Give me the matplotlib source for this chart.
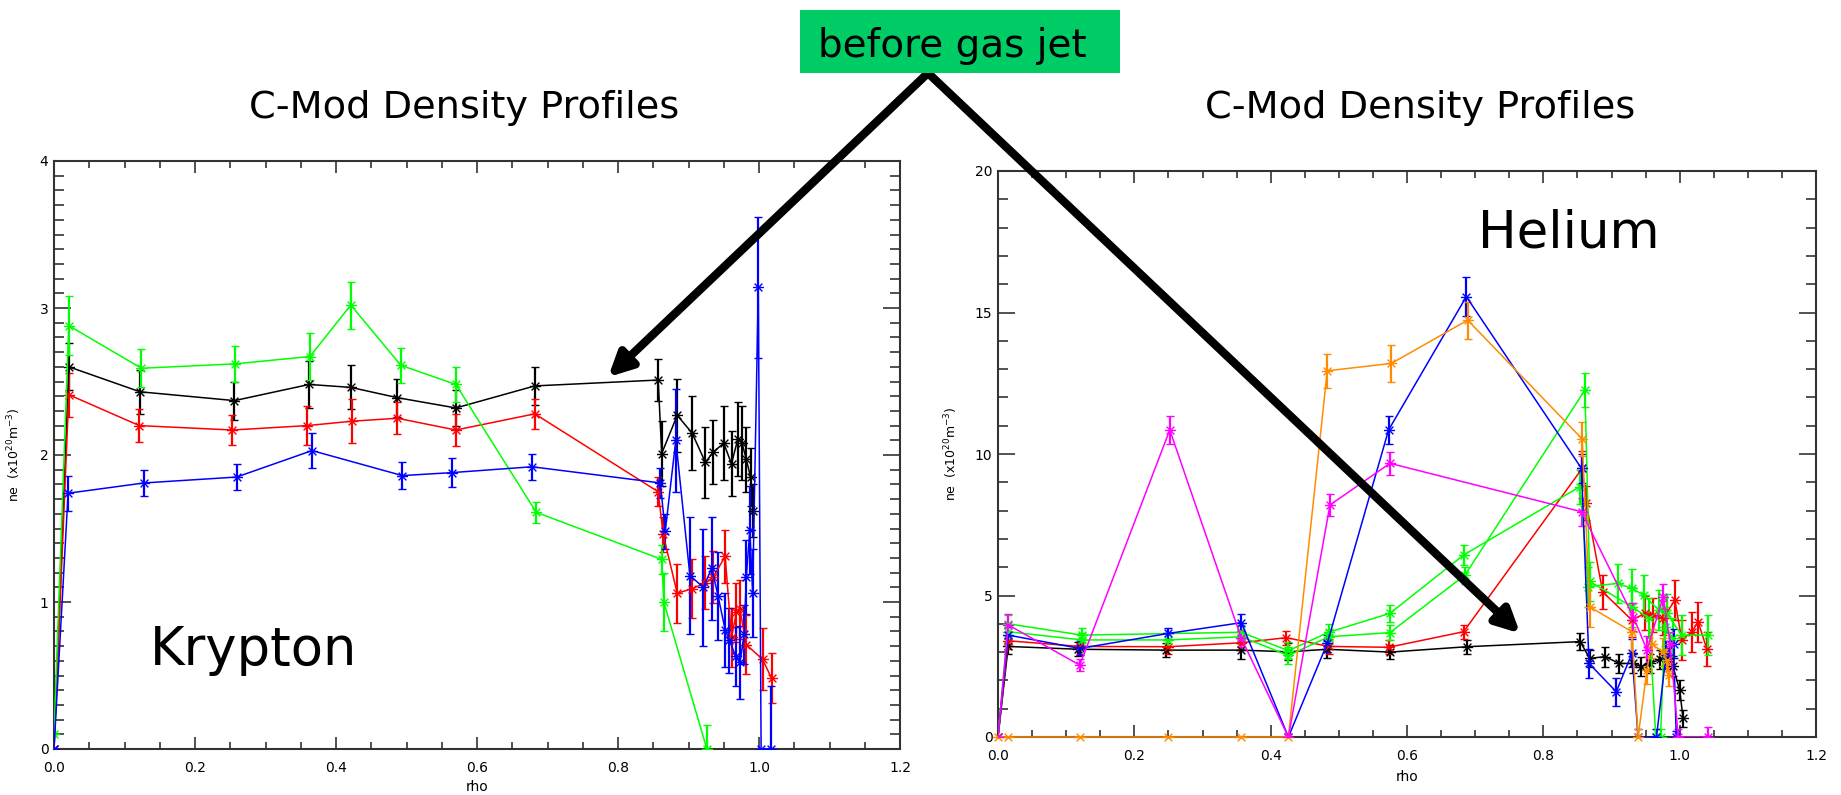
import numpy as np
import matplotlib.pyplot as plt
from matplotlib.path import Path
from matplotlib.patches import Rectangle
from matplotlib.ticker import MultipleLocator, FormatStrFormatter

plt.rcParams['font.family'] = 'DejaVu Sans'

# ---- Krypton shots ----
kr_black_rho = [0.0, 0.021, 0.122, 0.256, 0.362, 0.421, 0.487, 0.570, 0.682, 0.857, 0.862, 0.884,
                0.905, 0.924, 0.935, 0.950, 0.961, 0.970, 0.976, 0.982, 0.988, 0.992]
kr_black_ne = [0.0, 2.60, 2.43, 2.37, 2.48, 2.46, 2.39, 2.32, 2.47, 2.51, 2.01, 2.27,
               2.15, 1.95, 2.02, 2.08, 1.94, 2.11, 2.08, 1.97, 1.85, 1.62]
kr_black_err = [0.0, 0.16, 0.15, 0.13, 0.16, 0.15, 0.13, 0.12, 0.13, 0.14, 0.22, 0.25,
                0.25, 0.24, 0.22, 0.25, 0.22, 0.25, 0.25, 0.22, 0.20, 0.18]

kr_red_rho = [0.0, 0.021, 0.121, 0.253, 0.359, 0.423, 0.487, 0.570, 0.682, 0.857, 0.864, 0.884,
              0.905, 0.924, 0.935, 0.952, 0.961, 0.968, 0.973, 0.982, 1.005, 1.018]
kr_red_ne = [0.0, 2.41, 2.20, 2.17, 2.20, 2.23, 2.25, 2.17, 2.28, 1.75, 1.46, 1.06,
             1.09, 1.13, 1.17, 1.31, 0.76, 0.93, 0.95, 0.71, 0.61, 0.48]
kr_red_err = [0.0, 0.15, 0.11, 0.10, 0.13, 0.15, 0.11, 0.11, 0.10, 0.10, 0.12, 0.20,
              0.20, 0.18, 0.18, 0.18, 0.20, 0.20, 0.20, 0.20, 0.21, 0.17]

kr_green_rho = [0.0, 0.021, 0.124, 0.257, 0.363, 0.421, 0.492, 0.570, 0.684, 0.862, 0.865, 0.926]
kr_green_ne = [0.1, 2.88, 2.59, 2.62, 2.67, 3.02, 2.61, 2.48, 1.61, 1.29, 1.00, 0.0]
kr_green_err = [0.0, 0.20, 0.13, 0.12, 0.16, 0.16, 0.12, 0.12, 0.07, 0.10, 0.20, 0.16]

kr_blue_rho = [0.0, 0.020, 0.128, 0.259, 0.366, 0.494, 0.564, 0.678, 0.860, 0.867, 0.882, 0.902,
               0.921, 0.933, 0.942, 0.952, 0.958, 0.967, 0.973, 0.979, 0.982, 0.987, 0.991,
               0.999, 1.003, 1.017]
kr_blue_ne = [0.0, 1.74, 1.81, 1.85, 2.03, 1.86, 1.88, 1.92, 1.81, 1.48, 2.10, 1.18,
              1.10, 1.23, 1.04, 0.81, 0.74, 0.63, 0.59, 0.78, 1.17, 1.49, 1.06,
              3.14, 0.0, 0.0]
kr_blue_err = [0.0, 0.12, 0.09, 0.09, 0.12, 0.09, 0.10, 0.09, 0.10, 0.12, 0.35, 0.40,
               0.40, 0.35, 0.30, 0.25, 0.22, 0.20, 0.25, 0.20, 0.25, 0.30, 0.30,
               0.48, 0.0, 0.43]

# ---- Helium shots ----
he_black_rho = [0.0, 0.015, 0.118, 0.247, 0.357, 0.426, 0.483, 0.575, 0.688, 0.854, 0.868, 0.891,
                0.911, 0.931, 0.944, 0.956, 0.971, 0.983, 0.990, 1.000, 1.005]
he_black_ne = [0.0, 3.20, 3.10, 3.07, 3.07, 3.01, 3.10, 3.00, 3.19, 3.37, 2.78, 2.84,
               2.60, 2.60, 2.49, 2.60, 2.74, 2.78, 2.50, 1.66, 0.66]
he_black_err = [0.0, 0.25, 0.25, 0.25, 0.30, 0.30, 0.30, 0.25, 0.25, 0.30, 0.30, 0.35,
                0.35, 0.35, 0.35, 0.35, 0.35, 0.35, 0.35, 0.35, 0.30]

he_red_rho = [0.0, 0.015, 0.120, 0.250, 0.357, 0.423, 0.485, 0.573, 0.683, 0.857, 0.863, 0.887,
              0.930, 0.949, 0.961, 0.976, 0.993, 1.003, 1.018, 1.027, 1.040]
he_red_ne = [0.0, 3.40, 3.20, 3.19, 3.33, 3.51, 3.20, 3.17, 3.72, 9.49, 8.26, 5.13,
             4.13, 4.37, 4.31, 4.19, 4.84, 3.43, 3.72, 4.07, 3.10]
he_red_err = [0.0, 0.30, 0.25, 0.25, 0.25, 0.25, 0.25, 0.25, 0.25, 0.60, 0.60, 0.60,
              0.60, 0.60, 0.60, 0.60, 0.70, 0.70, 0.70, 0.70, 0.60]

he_green_rho = [0.0, 0.015, 0.123, 0.357, 0.426, 0.485, 0.575, 0.683, 0.854, 0.866, 0.909,
                0.930, 0.947, 0.969, 0.981, 1.003, 1.042]
he_green_ne = [0.0, 4.00, 3.60, 3.70, 3.05, 3.70, 4.37, 6.43, 8.85, 5.31, 5.43,
               5.25, 5.02, 4.49, 4.37, 3.60, 3.60]
he_green_err = [0.0, 0.30, 0.25, 0.25, 0.30, 0.30, 0.30, 0.35, 0.60, 0.70, 0.70,
                0.70, 0.70, 0.70, 0.70, 0.70, 0.70]

he_green2_rho = [0.0, 0.015, 0.123, 0.250, 0.357, 0.426, 0.485, 0.575, 0.685, 0.861, 0.868,
                 0.930, 0.955, 0.965, 0.972, 0.978, 0.990]
he_green2_ne = [0.0, 3.72, 3.43, 3.43, 3.54, 2.88, 3.54, 3.69, 5.72, 12.26, 5.50,
                4.60, 4.20, 0.0, 0.0, 3.90, 3.50]
he_green2_err = [0.0, 0.25, 0.25, 0.25, 0.25, 0.30, 0.25, 0.25, 0.30, 0.60, 0.70,
                 0.70, 0.70, 0.30, 0.30, 0.70, 0.70]

he_blue_rho = [0.0, 0.015, 0.120, 0.250, 0.357, 0.426, 0.483, 0.573, 0.687, 0.856, 0.867,
               0.907, 0.930, 0.939, 0.966, 0.980, 0.991, 0.995]
he_blue_ne = [0.0, 3.60, 3.13, 3.66, 4.04, 0.0, 3.31, 10.85, 15.56, 9.49, 2.60,
              1.60, 2.96, 0.0, 0.0, 2.90, 3.30, 0.0]
he_blue_err = [0.0, 0.30, 0.25, 0.20, 0.30, 0.10, 0.30, 0.50, 0.70, 0.50, 0.50,
               0.50, 0.50, 0.30, 0.30, 0.50, 0.50, 0.20]

he_orange_rho = [0.0, 0.015, 0.120, 0.250, 0.357, 0.426, 0.483, 0.577, 0.689, 0.857, 0.868,
                 0.930, 0.939, 0.952, 0.959, 0.975, 0.981, 0.985]
he_orange_ne = [0.0, 0.0, 0.0, 0.0, 0.0, 0.0, 12.94, 13.20, 14.73, 10.53, 4.60,
                3.72, 0.0, 2.37, 3.30, 3.00, 2.72, 2.20]
he_orange_err = [0.0, 0.0, 0.0, 0.0, 0.0, 0.0, 0.60, 0.65, 0.65, 0.60, 0.70,
                 0.70, 0.30, 0.50, 0.50, 0.50, 0.40, 0.40]

he_magenta_rho = [0.0, 0.015, 0.120, 0.252, 0.357, 0.426, 0.487, 0.575, 0.856, 0.932,
                  0.952, 0.976, 0.986, 0.998, 1.042]
he_magenta_ne = [0.0, 3.96, 2.54, 10.85, 3.49, 0.0, 8.20, 9.67, 7.96, 4.25,
                 3.07, 4.96, 3.30, 0.0, 0.0]
he_magenta_err = [0.0, 0.40, 0.20, 0.50, 0.30, 0.10, 0.40, 0.40, 0.50, 0.50,
                  0.50, 0.45, 0.40, 0.30, 0.36]

# IDL-style asterisk symbol
star = Path([(-1, 0), (1, 0), (-0.7, -0.7), (0.7, 0.7), (-0.7, 0.7), (0.7, -0.7)],
            [Path.MOVETO, Path.LINETO] * 3)


def profile(ax, rho, ne, err, color, clip=True):
    eb = ax.errorbar(rho, ne, yerr=err, color=color, marker=star, ms=8, mfc='none', mec=color,
                     mew=1.0, lw=1.1, elinewidth=1.6, capsize=3.2, capthick=1.2, zorder=3)
    eb.lines[0].set_clip_on(clip)


def frame(ax, ymax, ymajor, yminor):
    ax.set_xlim(0, 1.2)
    ax.set_ylim(0, ymax)
    ax.xaxis.set_major_locator(MultipleLocator(0.2))
    ax.xaxis.set_minor_locator(MultipleLocator(0.05))
    ax.xaxis.set_major_formatter(FormatStrFormatter('%.1f'))
    ax.yaxis.set_major_locator(MultipleLocator(ymajor))
    ax.yaxis.set_minor_locator(MultipleLocator(yminor))
    ax.tick_params(which='both', direction='in', top=True, right=True, width=1.1,
                   colors='#222222', labelsize=10, labelcolor='black')
    ax.tick_params(axis='x', which='major', length=8.5, pad=9)
    ax.tick_params(axis='x', which='minor', length=5)
    ax.tick_params(axis='y', which='major', length=12, pad=4)
    ax.tick_params(axis='y', which='minor', length=7)
    for s in ax.spines.values():
        s.set_linewidth(1.5)
        s.set_color('#333333')
    ax.set_xlabel('rho', fontsize=10)
    ax.set_ylabel(r'ne  (x10$^{20}$m$^{-3}$)', fontsize=9)


W, H = 1841, 795
fig = plt.figure(figsize=(W / 100, H / 100), dpi=100)

ax1 = fig.add_axes([54 / W, 1 - 749 / H, 846 / W, 588 / H])
ax2 = fig.add_axes([998 / W, 1 - 737 / H, 818 / W, 566 / H])

profile(ax1, kr_black_rho, kr_black_ne, kr_black_err, 'black')
profile(ax1, kr_red_rho, kr_red_ne, kr_red_err, '#ff0000')
profile(ax1, kr_green_rho, kr_green_ne, kr_green_err, '#00ff00')
profile(ax1, kr_blue_rho, kr_blue_ne, kr_blue_err, '#0000ff')
frame(ax1, 4, 1, 0.1)
ax1.xaxis.set_label_coords(0.5, -0.053)
ax1.yaxis.set_label_coords(-0.037, 0.5)
ax1.text(0.1135, 0.143, 'Krypton', transform=ax1.transAxes, fontsize=38, va='baseline')

profile(ax2, he_black_rho, he_black_ne, he_black_err, 'black')
profile(ax2, he_red_rho, he_red_ne, he_red_err, '#ff0000')
profile(ax2, he_green_rho, he_green_ne, he_green_err, '#00ff00')
profile(ax2, he_green2_rho, he_green2_ne, he_green2_err, '#00ff00')
profile(ax2, he_blue_rho, he_blue_ne, he_blue_err, '#0000ff')
profile(ax2, he_orange_rho, he_orange_ne, he_orange_err, '#ff8c00', clip=False)
profile(ax2, he_magenta_rho, he_magenta_ne, he_magenta_err, '#ff00ff')
frame(ax2, 20, 5, 1)
ax2.xaxis.set_label_coords(0.5, -0.058)
ax2.yaxis.set_label_coords(-0.046, 0.5)
ax2.text(0.587, 0.864, 'Helium', transform=ax2.transAxes, fontsize=37, va='baseline')

# titles
fig.text(464.5 / W, 1 - 118 / H, 'C-Mod Density Profiles', fontsize=27.5, ha='center', va='baseline')
fig.text(1420.5 / W, 1 - 118 / H, 'C-Mod Density Profiles', fontsize=27.5, ha='center', va='baseline')

# callout box and arrows
fig.patches.append(Rectangle((800 / W, 1 - 73 / H), 320 / W, 63 / H, transform=fig.transFigure,
                             facecolor='#00cc66', edgecolor='none', zorder=5))
fig.text(818 / W, 1 - 56.7 / H, 'before gas jet', fontsize=28, ha='left', va='baseline', zorder=6)

apex = (928 / W, 1 - 73 / H)
arrow = dict(arrowstyle='-|>,head_length=0.7,head_width=0.35', lw=6, color='black',
             mutation_scale=20, shrinkA=0, shrinkB=0)
ax1.annotate('', xy=(0.786, 2.53), xycoords='data', xytext=apex, textcoords='figure fraction',
             arrowprops=arrow, annotation_clip=False, zorder=10)
ax2.annotate('', xy=(0.766, 3.66), xycoords='data', xytext=apex, textcoords='figure fraction',
             arrowprops=arrow, annotation_clip=False, zorder=10)

fig.savefig('out.png', dpi=100, facecolor='white')
